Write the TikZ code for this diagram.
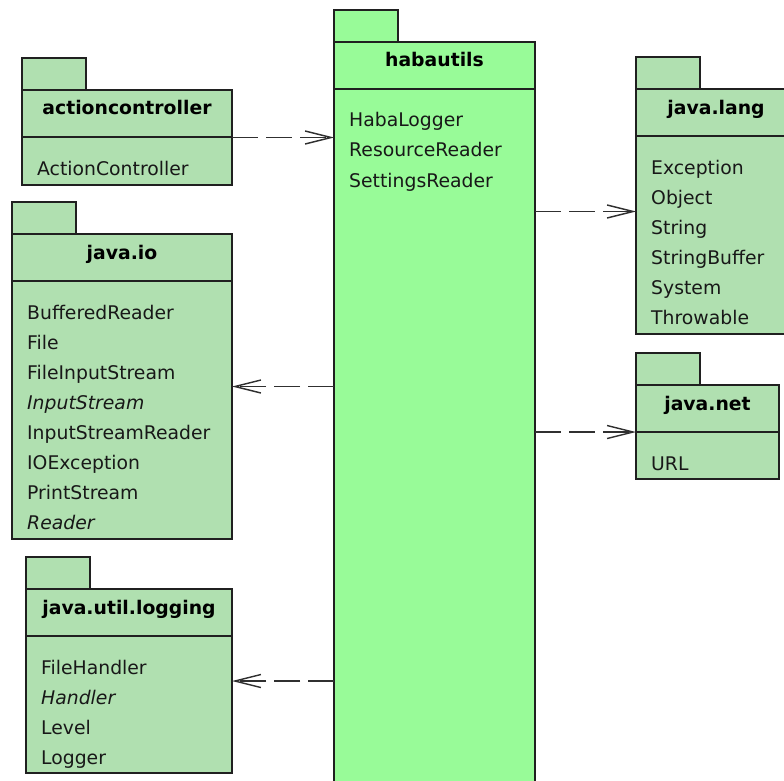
\documentclass[tikz,border=0pt]{standalone}
\usepackage{fontspec}
\setmainfont{DejaVu Sans}
\usetikzlibrary{arrows.meta}

\definecolor{pkgfill}{RGB}{176,224,176}
\definecolor{mainfill}{RGB}{152,251,152}
\definecolor{edgecol}{RGB}{32,32,32}
\definecolor{depcol}{RGB}{48,48,48}
\definecolor{txtcol}{RGB}{24,24,24}

% One UML package: tab, body, title compartment and the list of classes.
% #1 id, #2 x, #3 y (top of tab), #4 width, #5 body height, #6 fill,
% #7 title, #8 comma-separated class names
\newcommand\umlpackage[8]{%
  \node[pkgtab, fill=#6] (#1-tab) at (#2,#3) {};
  \node[pkgbody, fill=#6, minimum width=#4pt, minimum height=#5pt]
    (#1) at (#1-tab.south west) {};
  \draw[pkgline] ([yshift=-47pt]#1.north west) -- ([yshift=-47pt]#1.north east);
  \node[pkgtitle] (#1-title) at ([yshift=-25pt]#1.north) {#7};
  \foreach \clsname [count=\k] in {#8} {
    \pgfmathsetmacro\dy{85+30*(\k-1)}
    \node[pkgitem] (#1-item\k) at ([xshift=15pt,yshift=-\dy pt]#1.north west) {\clsname};
  }%
}

\begin{document}
\begin{tikzpicture}[x=1pt, y=-1pt,
  pkgline/.style={draw=edgecol, line width=1.4pt},
  pkgtab/.style={pkgline, inner sep=0pt, outer sep=0pt, anchor=north west,
    minimum width=64pt, minimum height=32pt},
  pkgbody/.style={pkgline, inner sep=0pt, outer sep=0pt, anchor=north west},
  pkgtitle/.style={anchor=base, inner sep=0pt, text=black,
    font=\fontsize{18.8}{22}\selectfont\bfseries},
  pkgitem/.style={anchor=base west, inner sep=0pt, text=txtcol,
    font=\fontsize{18.8}{22}\selectfont},
  dep/.style={draw=depcol, line width=1.4pt, dash pattern=on 26pt off 8pt,
    -{Straight Barb[length=26pt, width=13pt, line width=1.4pt]}}]

\clip (0,0) rectangle (784,781);
\fill[white] (0,0) rectangle (784,781);

\umlpackage{action}{22}{58}{210}{95}{pkgfill}{actioncontroller}{ActionController}
\umlpackage{habautils}{334}{10}{201}{790}{mainfill}{habautils}
  {HabaLogger, ResourceReader, SettingsReader}
\umlpackage{lang}{636}{57}{160}{245}{pkgfill}{java.lang}
  {Exception, Object, String, StringBuffer, System, Throwable}
\umlpackage{net}{636}{353}{143}{94}{pkgfill}{java.net}{URL}
\umlpackage{io}{12}{202}{220}{305}{pkgfill}{java.io}
  {BufferedReader, File, FileInputStream, \textit{InputStream},
   InputStreamReader, IOException, PrintStream, \textit{Reader}}
\umlpackage{logging}{26}{557}{206}{184}{pkgfill}{java.util.logging}
  {FileHandler, \textit{Handler}, Level, Logger}

% dependencies
\draw[dep] (action.east) -- (action.east -| habautils.west);
\draw[dep] (lang.west -| habautils.east) -- (lang.west);
\draw[dep] (net.west -| habautils.east) -- (net.west);
\draw[dep] (io.east -| habautils.west) -- (io.east);
\draw[dep] (logging.east -| habautils.west) -- (logging.east);
\end{tikzpicture}
\end{document}
